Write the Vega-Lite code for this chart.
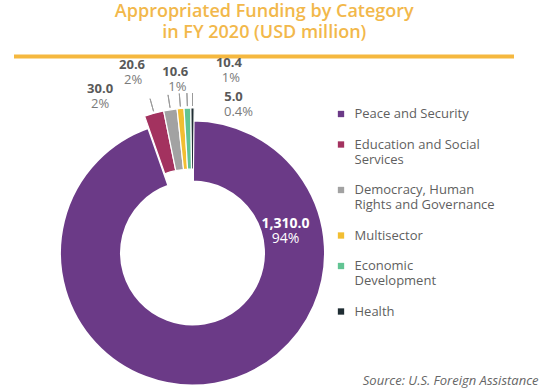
{
  "$schema": "https://vega.github.io/schema/vega-lite/v6.json",
  "autosize": {"type": "pad"},
  "padding": {"left": 13.5, "top": 3, "right": 0, "bottom": 0},
  "background": "white",
  "title": {
    "text": ["Appropriated Funding by Category", "in FY 2020 (USD million)"],
    "anchor": "middle",
    "color": "#F2B84B",
    "font": "Open Sans",
    "fontSize": 18,
    "fontWeight": 600,
    "lineHeight": 21,
    "offset": 7,
    "dx": -12
  },
  "bounds": "flush",
  "spacing": 84,
  "config": {"view": {"stroke": null}, "font": "Open Sans"},
  "vconcat": [
    {
      "width": 497,
      "height": 1,
      "view": {"stroke": "#F5B83F", "strokeWidth": 3},
      "data": {"values": [{"t": ""}]},
      "mark": {"type": "text", "opacity": 0},
      "encoding": {"text": {"field": "t"}}
    },
    {
      "width": 354,
      "height": 224,
      "title": {
        "text": "Source: U.S. Foreign Assistance",
        "orient": "bottom",
        "anchor": "end",
        "font": "Open Sans",
        "fontStyle": "italic",
        "fontWeight": "normal",
        "fontSize": 13,
        "color": "#666666",
        "offset": -17,
        "dx": 169
      },
      "data": {
        "values": [
          {"category": "Peace and Security", "value": 1310.0, "valueLabel": "1,310.0", "pctLabel": "94%", "order": 1},
          {"category": "Education and Social Services", "value": 30.0, "valueLabel": "30.0", "pctLabel": "2%", "order": 2},
          {"category": "Democracy, Human Rights and Governance", "value": 20.6, "valueLabel": "20.6", "pctLabel": "2%", "order": 3},
          {"category": "Multisector", "value": 10.6, "valueLabel": "10.6", "pctLabel": "1%", "order": 4},
          {"category": "Economic Development", "value": 10.4, "valueLabel": "10.4", "pctLabel": "1%", "order": 5},
          {"category": "Health", "value": 5.0, "valueLabel": "5.0", "pctLabel": "0.4%", "order": 6}
        ]
      },
      "transform": [
        {"stack": "value", "groupby": [], "sort": [{"field": "order", "order": "ascending"}], "as": ["s0", "s1"]},
        {"calculate": "(datum.s0 + datum.s1) / 2", "as": "mid"}
      ],
      "layer": [
        {
          "transform": [{"filter": "datum.category == 'Peace and Security'"}],
          "mark": {"type": "arc", "radius": 133, "radius2": 71, "stroke": "white", "strokeWidth": 3},
          "encoding": {
            "theta": {"field": "s0", "type": "quantitative", "stack": null},
            "theta2": {"field": "s1"},
            "color": {
              "field": "category",
              "type": "nominal",
              "scale": {
                "domain": ["Peace and Security", "Education and Social Services", "Democracy, Human Rights and Governance", "Multisector", "Economic Development", "Health"],
                "range": ["#6B3A87", "#A3325F", "#A2A2A2", "#F2BE32", "#62C493", "#1F2D33"]
              },
              "legend": {
                "orient": "none",
                "legendX": 319,
                "legendY": 51.5,
                "title": null,
                "symbolType": "square",
                "symbolSize": 40,
                "symbolStrokeWidth": 0,
                "labelFont": "Open Sans",
                "labelFontSize": 13,
                "labelColor": "#5f5f5f",
                "labelOffset": 7,
                "labelLimit": 300,
                "rowPadding": 16.5,
                "labelExpr": "datum.label == 'Education and Social Services' ? ['Education and Social', 'Services'] : datum.label == 'Democracy, Human Rights and Governance' ? ['Democracy, Human', 'Rights and Governance'] : datum.label == 'Economic Development' ? ['Economic', 'Development'] : datum.label"
              }
            }
          }
        },
        {
          "transform": [{"filter": "datum.category != 'Peace and Security'"}],
          "mark": {"type": "arc", "radius": 145, "radius2": 84, "stroke": "white", "strokeWidth": 1.2},
          "encoding": {
            "theta": {"field": "s0", "type": "quantitative", "stack": null},
            "theta2": {"field": "s1"},
            "color": {"field": "category", "type": "nominal"}
          }
        },
        {
          "transform": [{"filter": "datum.category != 'Peace and Security'"}],
          "mark": {"type": "arc", "radius": 160, "radius2": 147, "fill": "transparent", "stroke": "#9a9a9a", "strokeWidth": 1},
          "encoding": {
            "theta": {"field": "mid", "type": "quantitative", "stack": null},
            "theta2": {"field": "mid"}
          }
        },
        {
          "transform": [{"filter": "datum.category == 'Peace and Security'"}],
          "mark": {"type": "text", "radius": 0, "dx": 93, "dy": -29, "fontSize": 14, "fontWeight": "bold", "color": "white"},
          "encoding": {"theta": {"field": "mid", "type": "quantitative", "stack": null}, "text": {"field": "valueLabel"}}
        },
        {
          "transform": [{"filter": "datum.category == 'Peace and Security'"}],
          "mark": {"type": "text", "radius": 0, "dx": 93, "dy": -14, "fontSize": 14, "color": "white"},
          "encoding": {"theta": {"field": "mid", "type": "quantitative", "stack": null}, "text": {"field": "pctLabel"}}
        },
        {
          "transform": [{"filter": "datum.category == 'Education and Social Services'"}],
          "mark": {"type": "text", "radius": 160, "dx": -50, "dy": -10, "fontSize": 13, "fontWeight": "bold", "color": "#595959"},
          "encoding": {"theta": {"field": "mid", "type": "quantitative", "stack": null}, "text": {"field": "valueLabel"}}
        },
        {
          "transform": [{"filter": "datum.category == 'Education and Social Services'"}],
          "mark": {"type": "text", "radius": 160, "dx": -50, "dy": 5, "fontSize": 13, "color": "#7a7a7a"},
          "encoding": {"theta": {"field": "mid", "type": "quantitative", "stack": null}, "text": {"field": "pctLabel"}}
        },
        {
          "transform": [{"filter": "datum.category == 'Democracy, Human Rights and Governance'"}],
          "mark": {"type": "text", "radius": 160, "dx": -36, "dy": -30, "fontSize": 13, "fontWeight": "bold", "color": "#595959"},
          "encoding": {"theta": {"field": "mid", "type": "quantitative", "stack": null}, "text": {"field": "valueLabel"}}
        },
        {
          "transform": [{"filter": "datum.category == 'Democracy, Human Rights and Governance'"}],
          "mark": {"type": "text", "radius": 160, "dx": -35, "dy": -15, "fontSize": 13, "color": "#7a7a7a"},
          "encoding": {"theta": {"field": "mid", "type": "quantitative", "stack": null}, "text": {"field": "pctLabel"}}
        },
        {
          "transform": [{"filter": "datum.category == 'Multisector'"}],
          "mark": {"type": "text", "radius": 160, "dx": -4, "dy": -22, "fontSize": 13, "fontWeight": "bold", "color": "#595959"},
          "encoding": {"theta": {"field": "mid", "type": "quantitative", "stack": null}, "text": {"field": "valueLabel"}}
        },
        {
          "transform": [{"filter": "datum.category == 'Multisector'"}],
          "mark": {"type": "text", "radius": 160, "dx": -2, "dy": -7, "fontSize": 13, "color": "#7a7a7a"},
          "encoding": {"theta": {"field": "mid", "type": "quantitative", "stack": null}, "text": {"field": "pctLabel"}}
        },
        {
          "transform": [{"filter": "datum.category == 'Economic Development'"}],
          "mark": {"type": "text", "radius": 160, "dx": 42, "dy": -30, "fontSize": 13, "fontWeight": "bold", "color": "#595959"},
          "encoding": {"theta": {"field": "mid", "type": "quantitative", "stack": null}, "text": {"field": "valueLabel"}}
        },
        {
          "transform": [{"filter": "datum.category == 'Economic Development'"}],
          "mark": {"type": "text", "radius": 160, "dx": 44, "dy": -15, "fontSize": 13, "color": "#7a7a7a"},
          "encoding": {"theta": {"field": "mid", "type": "quantitative", "stack": null}, "text": {"field": "pctLabel"}}
        },
        {
          "transform": [{"filter": "datum.category == 'Health'"}],
          "mark": {"type": "text", "radius": 160, "dx": 41, "dy": 4, "fontSize": 13, "fontWeight": "bold", "color": "#595959"},
          "encoding": {"theta": {"field": "mid", "type": "quantitative", "stack": null}, "text": {"field": "valueLabel"}}
        },
        {
          "transform": [{"filter": "datum.category == 'Health'"}],
          "mark": {"type": "text", "radius": 160, "dx": 46, "dy": 19, "fontSize": 13, "color": "#7a7a7a"},
          "encoding": {"theta": {"field": "mid", "type": "quantitative", "stack": null}, "text": {"field": "pctLabel"}}
        }
      ]
    }
  ]
}
